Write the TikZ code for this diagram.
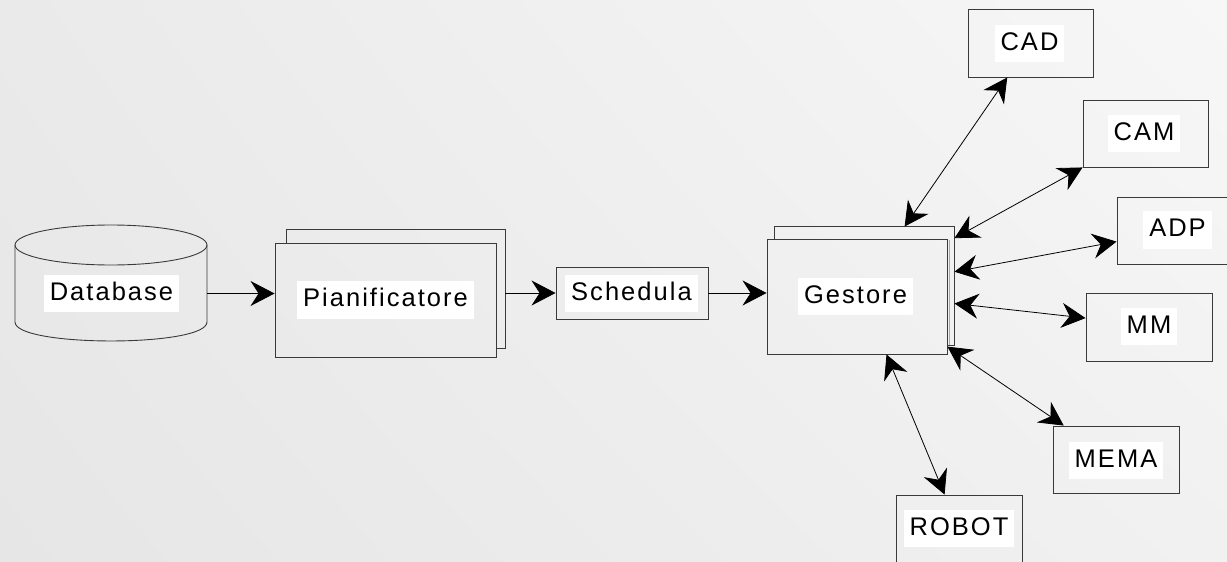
\documentclass[tikz,border=0pt]{standalone}
\usepackage{fontspec}
\setmainfont{Liberation Sans}[LetterSpace=8]
\usetikzlibrary{arrows.meta,shadings}

\definecolor{bgUL}{HTML}{EAEAEA}
\definecolor{bgUR}{HTML}{F7F7F7}
\definecolor{bgLL}{HTML}{E6E6E6}
\definecolor{bgLR}{HTML}{F1F1F1}
\definecolor{edge}{HTML}{3A3A3A}

\begin{document}
\begin{tikzpicture}[x=1pt,y=-1pt,
  box/.style={draw=edge, line width=0.9pt, inner sep=0pt},
  frame/.style={draw=edge, line width=0.9pt},
  lbl/.style={fill=white, inner xsep=6pt, inner ysep=7pt,
    text height=18.5pt, text depth=5pt, font=\fontsize{25.5}{30}\selectfont},
  tip/.tip={Stealth[length=24pt,width=25pt,inset=8pt]},
  link/.style={line width=0.8pt, -tip},
  bilink/.style={line width=0.8pt, tip-tip}]

% background
\clip (0,0) rectangle (1227,562);
\shade[upper left=bgUL, upper right=bgUR, lower left=bgLL, lower right=bgLR]
  (0,0) rectangle (1227,562);

% database cylinder
\node[inner sep=0pt, minimum width=192pt, minimum height=116pt] (db) at (111,283) {};
\draw[frame] (111,245) ellipse [x radius=96, y radius=20];
\draw[frame] (15,245) -- (15,322) .. controls (15,347.3) and (207,347.3) .. (207,322) -- (207,245);
\node[lbl] (dbl) at (111.5,293.5) {Database};

% planner (stacked)
\node[box, minimum width=218pt, minimum height=118pt] [draw=none] (pianB) at (396,289) {};
\node[box, minimum width=221pt, minimum height=114pt] (pian) at (385.5,300) {};
\draw[frame] (pianB.north west |- pian.north) -- (pianB.north west) -- (pianB.north east)
  -- (pianB.south east) -- (pian.east |- pianB.south);
\node[lbl] (pianl) at (385.5,300) {Pianificatore};

% schedule
\node[box, minimum width=152pt, minimum height=52pt] (sched) at (632,293) {};
\node[lbl] (schedl) at (631.5,293.5) {Schedula};

% manager (stacked)
\node[box, minimum width=179pt, minimum height=118pt] [draw=none] (gestB) at (864.5,286) {};
\node[box, minimum width=180pt, minimum height=115pt] (gest) at (857,296.5) {};
\draw[frame] (gestB.north west |- gest.north) -- (gestB.north west) -- (gestB.north east)
  -- (gestB.south east) -- (gest.east |- gestB.south);
\draw[black!35, line width=0.8pt] ([xshift=1.6pt,yshift=-1pt]gest.north east) -- ([xshift=1.6pt]gest.east |- gestB.south);
\node[lbl] (gestl) at (855.5,296.5) {Gestore};

% peripheral units
\node[box, minimum width=125pt, minimum height=68pt] (cad) at (1030.5,43) {};
\node[lbl] (cadl) at (1029.5,43.5) {CAD};
\node[box, minimum width=125pt, minimum height=67pt] (cam) at (1145.5,133.5) {};
\node[lbl] (caml) at (1144,133.5) {CAM};
\node[box, minimum width=125pt, minimum height=67pt] (adp) at (1179.5,230.5) {};
\node[lbl] (adpl) at (1177.5,230) {ADP};
\node[box, minimum width=126pt, minimum height=68pt] (mm) at (1149,327) {};
\node[lbl] (mml) at (1149,326.5) {MM};
\node[box, minimum width=126pt, minimum height=67pt] (mema) at (1116,459.5) {};
\node[lbl] (memal) at (1116,460.5) {MEMA};
\node[box, minimum width=126pt, minimum height=67pt] (robot) at (959,528.5) {};
\node[lbl] (robotl) at (959,528.5) {ROBOT};

% main flow
\draw[link] (db.east |- dbl) -- (pian.west |- dbl);
\draw[link] (pianB.east |- sched) -- (sched.west);
\draw[link] (sched.east) -- (gest.west |- sched);

% links between manager and units
\draw[bilink] (gestB.56.7) -- (cad.-124);
\draw[bilink] (gestB.28.5) -- (cam.south west);
\draw[bilink] (gestB.9) -- (adp.190.6);
\draw[bilink] (gestB.-11) -- (mm.172);
\draw[bilink] (gest.-29.6) -- (mema.147.5);
\draw[bilink] (gest.-63.8) -- (robot.113.3);
\end{tikzpicture}
\end{document}
